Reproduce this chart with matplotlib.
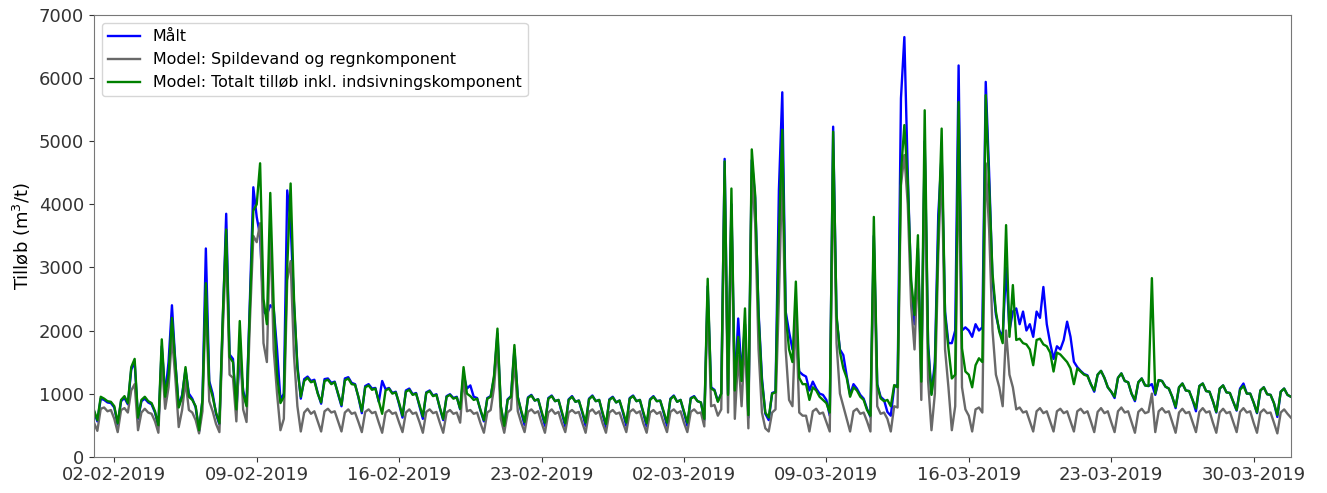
import numpy as np
import pandas as pd
import matplotlib
matplotlib.use("Agg")
import matplotlib.pyplot as plt
import matplotlib.dates as mdates

# hourly data every 4 hours: 00, 04, 08, 12, 16, 20 for each day
start = "2019-02-01"
n_days = 59

# measured inflow (blue)
maalt = [
    [720, 560, 920, 900, 860, 850], [780, 510, 880, 930, 830, 1380],
    [1500, 600, 880, 920, 860, 830], [700, 480, 1750, 980, 1500, 2400],
    [1500, 800, 980, 1380, 1000, 920], [780, 400, 900, 3300, 1200, 1000],
    [680, 510, 2150, 3850, 1620, 1550], [730, 1600, 1050, 820, 2500, 4270],
    [3800, 3500, 2300, 2250, 2400, 2350], [1700, 900, 1000, 4220, 3700, 2400],
    [1450, 920, 1230, 1270, 1200, 1220], [1010, 840, 1230, 1240, 1170, 1190],
    [990, 800, 1240, 1260, 1170, 1150], [940, 690, 1120, 1150, 1080, 1090],
    [870, 1200, 1070, 1090, 1010, 1030], [830, 620, 1050, 1080, 990, 1010],
    [800, 600, 1020, 1050, 970, 990], [770, 580, 960, 990, 930, 950],
    [750, 1300, 1080, 1130, 950, 930], [730, 560, 930, 960, 1250, 1950],
    [790, 470, 910, 960, 1700, 950], [710, 500, 940, 980, 890, 910],
    [700, 490, 930, 970, 880, 900], [690, 480, 910, 960, 870, 890],
    [700, 490, 920, 970, 880, 900], [680, 470, 910, 950, 860, 890],
    [700, 490, 930, 970, 880, 900], [690, 480, 910, 960, 880, 890],
    [700, 490, 920, 970, 870, 900], [700, 490, 930, 960, 880, 860],
    [580, 2700, 1100, 1060, 880, 1000], [4720, 1000, 4000, 1080, 2190, 1300],
    [2100, 620, 4700, 4100, 2300, 1250], [680, 580, 1010, 1030, 4225, 5775],
    [2300, 1980, 1700, 1900, 1350, 1300], [1270, 1050, 1190, 1080, 1000, 980],
    [900, 650, 5230, 2200, 1700, 1610], [1280, 980, 1150, 1080, 980, 920],
    [760, 630, 3500, 1150, 950, 900], [710, 650, 1100, 1150, 5680, 6650],
    [4500, 2700, 2100, 3300, 1250, 5000], [1800, 1000, 1500, 3830, 4800, 2300],
    [1800, 1800, 2000, 6200, 2000, 2050], [2000, 1900, 2100, 2000, 2050, 5940],
    [4500, 2800, 2250, 2000, 1900, 3000], [2000, 2300, 2350, 2100, 2300, 2000],
    [2100, 1900, 2300, 2200, 2690, 2100], [1800, 1550, 1750, 1700, 1850, 2140],
    [1900, 1505, 1420, 1360, 1310, 1290], [1150, 1030, 1300, 1360, 1250, 1100],
    [1030, 930, 1250, 1320, 1200, 1180], [1000, 880, 1180, 1240, 1130, 1120],
    [1150, 980, 1215, 1200, 1110, 1080], [950, 770, 1100, 1160, 1050, 1040],
    [900, 720, 1120, 1160, 1040, 1030], [880, 700, 1080, 1130, 1020, 1010],
    [870, 730, 1080, 1160, 1000, 1000], [860, 690, 1050, 1100, 990, 980],
    [850, 630, 1030, 1080, 980, 950],
]

# model: wastewater + rain component (grey)
spild = [
    [540, 410, 760, 780, 720, 740], [600, 390, 740, 770, 700, 1050],
    [1150, 420, 700, 760, 700, 680], [560, 380, 1550, 760, 1100, 1900],
    [1250, 470, 740, 1200, 740, 700], [580, 370, 720, 2550, 880, 720],
    [520, 390, 2000, 3350, 1300, 1250], [560, 1900, 750, 550, 2150, 3500],
    [3400, 3700, 1800, 1500, 3700, 1700], [1000, 420, 600, 2800, 3100, 1600],
    [800, 400, 700, 760, 680, 720], [560, 400, 720, 760, 700, 720],
    [560, 400, 700, 750, 680, 700], [550, 390, 710, 750, 690, 710],
    [540, 380, 700, 740, 680, 700], [540, 390, 700, 750, 680, 700],
    [550, 380, 710, 750, 690, 710], [540, 380, 700, 740, 680, 700],
    [540, 1250, 720, 740, 680, 700], [530, 380, 700, 740, 1100, 1800],
    [600, 380, 700, 750, 1550, 720], [540, 390, 710, 750, 690, 720],
    [540, 380, 700, 750, 680, 710], [530, 390, 700, 740, 690, 710],
    [540, 380, 710, 750, 680, 720], [530, 380, 700, 740, 680, 700],
    [540, 390, 710, 750, 690, 720], [530, 380, 700, 740, 680, 710],
    [540, 390, 710, 750, 690, 720], [540, 390, 710, 750, 690, 700],
    [480, 2500, 800, 820, 650, 750], [4300, 700, 3900, 600, 1600, 800],
    [1900, 450, 4500, 3700, 1700, 700], [450, 400, 700, 750, 2500, 4600],
    [1700, 900, 800, 2300, 700, 650], [650, 400, 720, 760, 680, 700],
    [550, 400, 4700, 1800, 1000, 800], [600, 400, 720, 760, 680, 700],
    [560, 400, 3300, 800, 680, 700], [600, 400, 800, 780, 4300, 4780],
    [4000, 2400, 1700, 3100, 900, 4900], [1200, 420, 1000, 3200, 4700, 1700],
    [1100, 420, 800, 5000, 1100, 750], [650, 400, 750, 780, 700, 4650],
    [3600, 2000, 1300, 1100, 800, 2000], [1300, 1100, 750, 780, 700, 720],
    [560, 400, 720, 770, 690, 720], [560, 400, 720, 760, 690, 720],
    [560, 400, 720, 760, 690, 720], [560, 390, 710, 770, 690, 720],
    [550, 390, 720, 780, 700, 720], [550, 380, 710, 760, 690, 710],
    [1000, 390, 720, 770, 700, 720], [550, 380, 700, 760, 690, 710],
    [550, 390, 710, 770, 700, 720], [540, 380, 700, 760, 690, 710],
    [550, 390, 710, 770, 700, 720], [540, 380, 700, 750, 690, 700],
    [540, 370, 700, 750, 680, 620],
]

# model: total inflow incl. infiltration (green)
total = [
    [740, 580, 950, 920, 880, 870], [800, 530, 900, 960, 850, 1420],
    [1550, 620, 900, 950, 880, 850], [720, 500, 1860, 950, 1300, 2200],
    [1480, 780, 950, 1420, 950, 900], [800, 420, 900, 2750, 1150, 950],
    [700, 530, 2250, 3600, 1580, 1500], [750, 2150, 1000, 800, 2400, 3900],
    [4000, 4650, 2500, 2100, 4180, 2400], [1300, 850, 950, 3000, 4330, 2500],
    [1400, 950, 1200, 1250, 1180, 1200], [1000, 860, 1200, 1220, 1150, 1180],
    [1000, 820, 1210, 1240, 1150, 1140], [950, 720, 1100, 1130, 1060, 1080],
    [880, 680, 1050, 1080, 1000, 1020], [850, 650, 1030, 1060, 980, 1000],
    [820, 640, 1010, 1040, 960, 980], [780, 600, 950, 980, 920, 940],
    [760, 1420, 1000, 960, 900, 920], [740, 580, 920, 950, 1290, 2030],
    [800, 490, 900, 950, 1770, 940], [730, 550, 930, 970, 890, 910],
    [720, 540, 920, 960, 880, 900], [710, 530, 900, 950, 870, 890],
    [720, 540, 910, 960, 880, 900], [700, 520, 900, 940, 860, 890],
    [720, 540, 920, 960, 880, 900], [710, 530, 900, 950, 880, 890],
    [720, 540, 910, 960, 870, 900], [720, 540, 920, 950, 880, 860],
    [600, 2820, 1080, 1050, 870, 1000], [4680, 980, 4250, 1050, 1900, 1200],
    [2350, 660, 4870, 4150, 2240, 1190], [700, 620, 1000, 1020, 3500, 5180],
    [2245, 1700, 1500, 2775, 1250, 1150], [1150, 900, 1100, 1050, 950, 900],
    [850, 700, 5150, 2245, 1660, 1400], [1250, 950, 1100, 1050, 950, 900],
    [740, 650, 3800, 1135, 925, 880], [900, 800, 1135, 1100, 4500, 5255],
    [4360, 2800, 2245, 3510, 1190, 5490], [1717, 980, 1400, 3500, 5200, 2245],
    [1717, 1240, 1300, 5620, 1717, 1350], [1300, 1100, 1450, 1560, 1500, 5730],
    [4300, 2900, 2300, 1980, 1800, 3670], [1900, 2720, 1850, 1870, 1800, 1780],
    [1700, 1450, 1850, 1870, 1780, 1750], [1650, 1350, 1650, 1620, 1560, 1500],
    [1400, 1150, 1400, 1350, 1300, 1280], [1150, 1050, 1300, 1360, 1250, 1100],
    [1030, 950, 1250, 1320, 1200, 1180], [1000, 900, 1180, 1240, 1130, 1120],
    [2830, 1000, 1215, 1200, 1110, 1080], [950, 790, 1100, 1160, 1050, 1040],
    [900, 765, 1120, 1160, 1040, 1030], [880, 710, 1080, 1130, 1020, 1010],
    [870, 740, 1060, 1120, 1000, 1000], [860, 700, 1050, 1100, 990, 980],
    [850, 660, 1030, 1080, 980, 950],
]

t = pd.date_range(start, periods=n_days * 6, freq="4h")
y_maalt = np.array(maalt).ravel()
y_spild = np.array(spild).ravel()
y_total = np.array(total).ravel()

fig = plt.figure(figsize=(13.27, 4.93), dpi=100)
ax = fig.add_axes([0.0708, 0.0736, 0.902, 0.896])

ax.plot(t, y_maalt, color="blue", lw=1.7, label="Målt")
ax.plot(t, y_spild, color="dimgray", lw=1.7, label="Model: Spildevand og regnkomponent")
ax.plot(t, y_total, color="green", lw=1.7, label="Model: Totalt tilløb inkl. indsivningskomponent")

ax.set_xlim(t[0], t[-1])
ax.set_ylim(0, 7000)
ax.set_ylabel("Tilløb (m$^3$/t)", fontsize=13)
ax.xaxis.set_major_locator(mdates.DayLocator(bymonthday=[2, 9, 16, 23, 30]))
ax.xaxis.set_major_formatter(mdates.DateFormatter("%d-%m-%Y"))
ax.tick_params(labelsize=13, colors="#333333")
for s in ax.spines.values():
    s.set_color("#777777")

ax.legend(loc="upper left", fontsize=11.4)

fig.savefig("out.png", dpi=100)
